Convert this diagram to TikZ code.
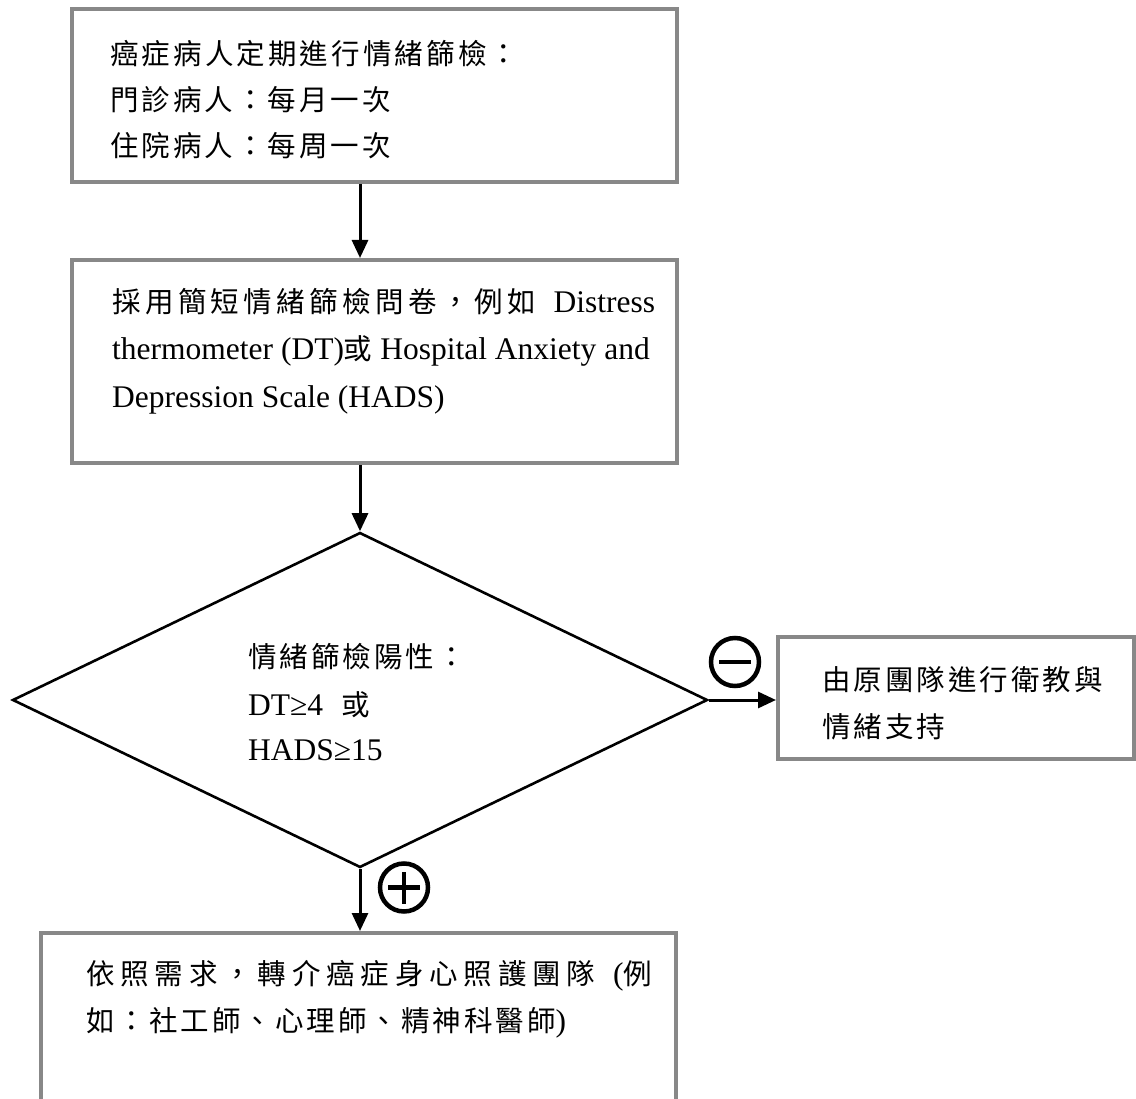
\documentclass[tikz,border=0pt]{standalone}
\usepackage{fontspec}
\setmainfont{Liberation Serif}
\newfontfamily\cjk[LetterSpace=10.5]{Noto Sans CJK TC}
\usetikzlibrary{shapes.geometric,arrows.meta}

% CJK run, optional extra tracking
\newcommand\zh[2][10.5]{{\fontsize{28.5pt}{46pt}\cjk\addfontfeature{LetterSpace=#1}#2}}

\definecolor{boxgray}{RGB}{136,136,136}

\tikzset{
  flowbox/.style={draw=boxgray, line width=4pt, fill=white, inner sep=0pt},
  decision/.style={diamond, draw=black, line width=2.6pt, inner sep=0pt, fill=white},
  arr/.style={-{Triangle[length=18pt,width=16pt]}, line width=3pt, black},
  txt/.style={anchor=base west, inner sep=0pt, font=\fontsize{31.5pt}{46pt}\selectfont},
  sign/.style={circle, draw=black, line width=4.5pt, minimum size=48pt, inner sep=0pt},
}

\begin{document}
\begin{tikzpicture}[x=1pt, y=-1pt]
\useasboundingbox (0,0) rectangle (1136,1099);
\clip (0,0) rectangle (1136,1099);

% boxes and the decision
\node[flowbox, minimum width=605pt, minimum height=173pt] (b1) at (374.5,95.5) {};
\node[flowbox, minimum width=605pt, minimum height=203pt] (b2) at (374.5,361.5) {};
\node[decision, minimum width=695pt, minimum height=335pt] (d) at (360,700) {};
\node[flowbox, minimum width=356pt, minimum height=122pt] (b3) at (956,698) {};
\node[flowbox, minimum width=635pt, minimum height=187pt] (b4) at (358.5,1026.5) {};

% connectors
\draw[arr] (b1.south -| d.north) -- (b2.north -| d.north);
\draw[arr] (b2.south -| d.north) -- (d.north);
\draw[arr] (d.east) -- (b3.west |- d.east);
\draw[arr] (d.south) -- (b4.north -| d.south);

% branch signs
\node[sign, path picture={\draw[line width=4.5pt]
   ([xshift=-16pt]path picture bounding box.center) -- ([xshift=16pt]path picture bounding box.center);}]
   (neg) at (735,662) {};
\node[sign, path picture={\draw[line width=4.5pt]
   ([xshift=-16pt]path picture bounding box.center) -- ([xshift=16pt]path picture bounding box.center);
   \draw[line width=4.5pt]
   ([yshift=-16pt]path picture bounding box.center) -- ([yshift=16pt]path picture bounding box.center);}]
   (pos) at (404,887.5) {};

% box 1
\node[txt] (t1a) at (110,65) {\zh[11]{癌症病人定期進行情緒篩檢：}};
\node[txt] (t1b) at (110,111) {\zh{門診病人：每月一次}};
\node[txt] (t1c) at (110,157) {\zh{住院病人：每周一次}};

% box 2
\node[txt] (t2a) at (112,313) {\makebox[543pt][s]{\zh[15.5]{採用簡短情緒篩檢問卷，例如} Distress}};
\node[txt] (t2b) at (112,360) {thermometer (DT)\zh{或} Hospital Anxiety and};
\node[txt] (t2c) at (112,407) {Depression Scale (HADS)};

% decision text
\node[txt] (t3a) at (248,667) {\zh{情緒篩檢陽性：}};
\node[txt] (t3b) at (248,715) {DT≥4\hspace{18pt}\zh{或}};
\node[txt] (t3c) at (248,760) {HADS≥15};

% box 3
\node[txt] (t4a) at (822,690) {\zh{由原團隊進行衛教與}};
\node[txt] (t4b) at (822,737) {\zh{情緒支持}};

% box 4
\node[txt] (t5a) at (86,984) {\makebox[566pt][s]{\zh[20.5]{依照需求，轉介癌症身心照護團隊} (\zh{例}}};
\node[txt] (t5b) at (86,1031) {\zh{如：社工師、心理師、精神科醫師})};
\end{tikzpicture}
\end{document}
